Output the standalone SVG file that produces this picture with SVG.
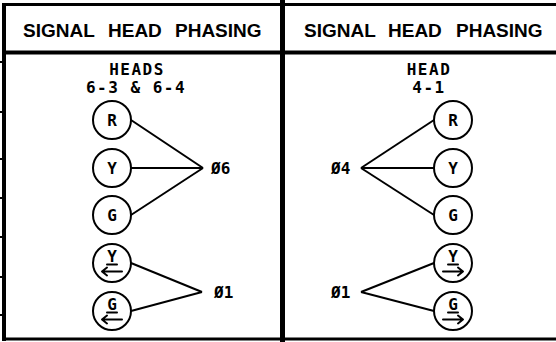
<svg xmlns="http://www.w3.org/2000/svg" width="556" height="342" viewBox="0 0 556 342">
<style>
.frame{stroke:#000;fill:none}
.hdr{font-family:"Liberation Sans",Arial,sans-serif;font-weight:bold;font-size:19px;fill:#000}
.lbl{font-family:"DejaVu Sans Mono",monospace;font-weight:bold;font-size:16px;fill:#000}
.sub{font-family:"DejaVu Sans Mono",monospace;font-weight:bold;font-size:16px;fill:#000;text-anchor:middle;letter-spacing:1.5px}
.c{fill:#fff;stroke:#000;stroke-width:2}
.ct{font-family:"DejaVu Sans Mono",monospace;font-weight:bold;font-size:16px;fill:#000;text-anchor:middle}
.ln{stroke:#000;stroke-width:2;fill:none}
.ar{stroke:#000;stroke-width:2;fill:none;stroke-linecap:round;stroke-linejoin:round}
</style>
<rect width="556" height="342" fill="#fff"/>
<g id="frame" class="frame">
<line x1="4" y1="3" x2="4" y2="341" stroke-width="4"/>
<line x1="2" y1="4.5" x2="556" y2="4.5" stroke-width="3"/>
<line x1="2" y1="52.5" x2="556" y2="52.5" stroke-width="4"/>
<line x1="2" y1="339" x2="556" y2="339" stroke-width="3"/>
<line x1="282.5" y1="0" x2="282.5" y2="342" stroke-width="5"/>
<g stroke-width="2">
<line x1="0" y1="62" x2="3" y2="62"/>
<line x1="0" y1="112" x2="3" y2="112"/>
<line x1="0" y1="159" x2="3" y2="159"/>
<line x1="0" y1="198" x2="3" y2="198"/>
<line x1="0" y1="237" x2="3" y2="237"/>
<line x1="0" y1="277" x2="3" y2="277"/>
<line x1="0" y1="315" x2="3" y2="315"/>
</g>
</g>
<g id="headers">
<text class="hdr" y="37"><tspan x="23">SIGNAL </tspan><tspan x="108">HEAD </tspan><tspan x="175">PHASING</tspan></text>
<text class="hdr" y="37"><tspan x="304">SIGNAL </tspan><tspan x="388">HEAD </tspan><tspan x="456">PHASING</tspan></text>
<text class="sub" x="137" y="75">HEADS</text>
<text class="sub" x="136" y="93">6-3 &amp; 6-4</text>
<text class="sub" x="429" y="75">HEAD</text>
<text class="sub" x="429" y="93">4-1</text>
</g>
<g id="connectors">
<line class="ln" x1="131" y1="120" x2="203" y2="168"/>
<line class="ln" x1="131" y1="168" x2="203" y2="168"/>
<line class="ln" x1="131" y1="215" x2="203" y2="168"/>
<line class="ln" x1="131" y1="263" x2="202" y2="292"/>
<line class="ln" x1="131" y1="311" x2="202" y2="292"/>
<line class="ln" x1="434" y1="120" x2="361" y2="168"/>
<line class="ln" x1="434" y1="168" x2="361" y2="168"/>
<line class="ln" x1="434" y1="215" x2="361" y2="168"/>
<line class="ln" x1="434" y1="263" x2="361" y2="292"/>
<line class="ln" x1="434" y1="311" x2="361" y2="292"/>
</g>
<g id="phase-06"><text class="lbl" x="211" y="174">Ø6</text></g>
<g id="phase-01-left"><text class="lbl" x="214" y="298">Ø1</text></g>
<g id="phase-04"><text class="lbl" x="331" y="174">Ø4</text></g>
<g id="phase-01-right"><text class="lbl" x="331" y="298">Ø1</text></g>
<g id="L-R"><circle class="c" cx="112" cy="120" r="19"/><text class="ct" x="112" y="126">R</text></g>
<g id="L-Y"><circle class="c" cx="112" cy="168" r="19"/><text class="ct" x="112" y="174">Y</text></g>
<g id="L-G"><circle class="c" cx="112" cy="215" r="19"/><text class="ct" x="112" y="221">G</text></g>
<g id="L-YA"><circle class="c" cx="112" cy="263" r="19"/><text class="ct" x="112" y="262">Y</text>
<line class="ar" x1="107" y1="264.5" x2="117" y2="264.5"/>
<path class="ar" d="M122 271.5H102M107 267.5L102 271.5L107 275.5"/></g>
<g id="L-GA"><circle class="c" cx="112" cy="311" r="19"/><text class="ct" x="112" y="310">G</text>
<line class="ar" x1="107" y1="312.5" x2="117" y2="312.5"/>
<path class="ar" d="M122 319.5H102M107 315.5L102 319.5L107 323.5"/></g>
<g id="R-R"><circle class="c" cx="453" cy="120" r="19"/><text class="ct" x="453" y="126">R</text></g>
<g id="R-Y"><circle class="c" cx="453" cy="168" r="19"/><text class="ct" x="453" y="174">Y</text></g>
<g id="R-G"><circle class="c" cx="453" cy="215" r="19"/><text class="ct" x="453" y="221">G</text></g>
<g id="R-YA"><circle class="c" cx="453" cy="263" r="19"/><text class="ct" x="453" y="262">Y</text>
<line class="ar" x1="448" y1="264.5" x2="458" y2="264.5"/>
<path class="ar" d="M443 271.5H463M458 267.5L463 271.5L458 275.5"/></g>
<g id="R-GA"><circle class="c" cx="453" cy="311" r="19"/><text class="ct" x="453" y="310">G</text>
<line class="ar" x1="448" y1="312.5" x2="458" y2="312.5"/>
<path class="ar" d="M443 319.5H463M458 315.5L463 319.5L458 323.5"/></g>
</svg>
